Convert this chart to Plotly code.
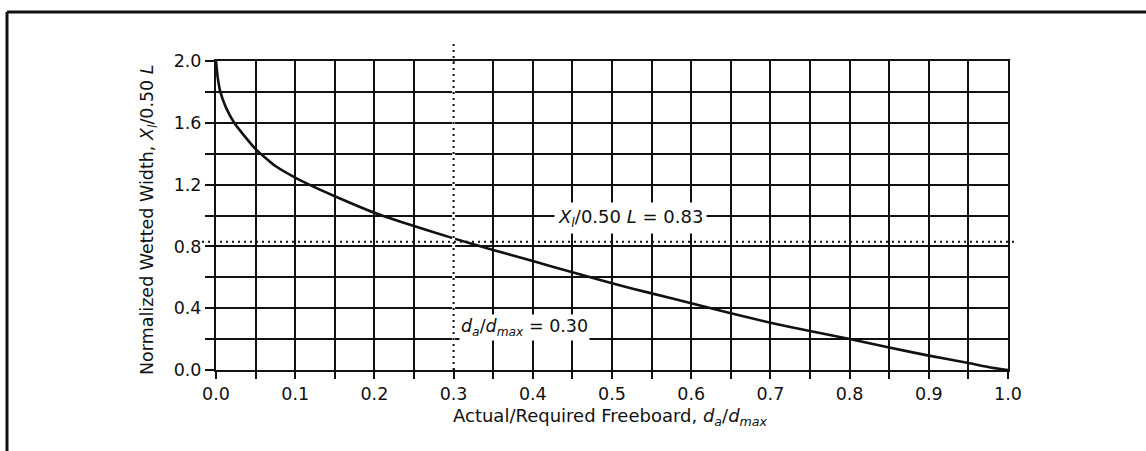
import plotly.graph_objects as go

# Normalized wetted width vs. actual/required freeboard
freeboard_ratio = [0.0, 0.002, 0.0055, 0.0125, 0.023, 0.035, 0.05, 0.075, 0.1, 0.125,
                   0.15, 0.175, 0.2, 0.25, 0.3, 0.35, 0.4, 0.45, 0.5, 0.55, 0.6,
                   0.65, 0.7, 0.75, 0.8, 0.85, 0.9, 0.95, 0.98, 1.0]
wetted_width = [2.0, 1.9, 1.8, 1.7, 1.6, 1.52, 1.43, 1.32, 1.245, 1.182,
                1.125, 1.07, 1.018, 0.932, 0.852, 0.777, 0.705, 0.633, 0.561, 0.496, 0.432,
                0.367, 0.306, 0.252, 0.2, 0.145, 0.093, 0.045, 0.015, 0.0]

# Reference values marked on the chart
design_ratio = 0.30
design_width = 0.83

# Axis ticks and labels
x_ticks = [round(i * 0.05, 2) for i in range(21)]
x_labels = [f"{v:.1f}" if i % 2 == 0 else "" for i, v in enumerate(x_ticks)]
y_ticks = [round(i * 0.2, 1) for i in range(11)]
y_labels = [f"{v:.1f}" if i % 2 == 0 else "" for i, v in enumerate(y_ticks)]

W, H = 1146, 451
L, R, T, B = 216, 138, 61, 81
pw, ph = W - L - R, H - T - B

def px_x(p):
    return (p - L) / pw

def px_y(p):
    return (H - B - p) / ph

ink = "#111111"
font = "DejaVu Sans, Verdana, sans-serif"

fig = go.Figure()

fig.add_trace(go.Scatter(
    x=freeboard_ratio, y=wetted_width, mode="lines",
    line=dict(color=ink, width=2.6, shape="spline", smoothing=0.5),
    hoverinfo="skip", showlegend=False,
))

dotted = dict(color=ink, width=2, dash="2px,4px")
shapes = [
    # white underlay so the 0.3 gridline reads as dotted
    dict(type="line", xref="x", yref="y", x0=design_ratio, x1=design_ratio,
         y0=0.01, y1=1.995, line=dict(color="white", width=3), layer="above"),
    dict(type="line", xref="x", yref="paper", x0=design_ratio, x1=design_ratio,
         y0=0, y1=px_y(42), line=dotted, layer="above"),
    dict(type="line", xref="paper", yref="y", x0=px_x(202), x1=px_x(1016),
         y0=design_width, y1=design_width, line=dotted, layer="above"),
    # page frame
    dict(type="line", xref="paper", yref="paper", x0=px_x(7), x1=px_x(7),
         y0=px_y(451), y1=px_y(12), line=dict(color=ink, width=3)),
    dict(type="line", xref="paper", yref="paper", x0=px_x(7), x1=px_x(1146),
         y0=px_y(12), y1=px_y(12), line=dict(color=ink, width=3)),
]

annotations = [
    dict(text=f"<i>X<sub>l</sub></i>/0.50 <i>L</i> = {design_width:.2f}", xref="x", yref="y",
         x=0.523, y=0.985, xanchor="center", yanchor="middle", showarrow=False,
         bgcolor="white", borderpad=3, font=dict(family=font, size=18, color=ink)),
    dict(text=f"<i>d<sub>a</sub></i>/<i>d<sub>max</sub></i> = {design_ratio:.2f}", xref="x", yref="y",
         x=0.389, y=0.275, xanchor="center", yanchor="middle", showarrow=False,
         bgcolor="white", borderpad=1, font=dict(family=font, size=17.5, color=ink)),
    dict(text="Actual/Required Freeboard, <i>d<sub>a</sub></i>/<i>d<sub>max</sub></i>",
         xref="paper", yref="paper", x=px_x(610), y=px_y(417), xanchor="center",
         yanchor="middle", showarrow=False, font=dict(family=font, size=18, color=ink)),
    dict(text="Normalized Wetted Width, <i>X<sub>l</sub></i>/0.50 <i>L</i>",
         xref="paper", yref="paper", x=px_x(148), y=px_y(220), xanchor="center",
         yanchor="middle", showarrow=False, textangle=-90,
         font=dict(family=font, size=17.5, color=ink)),
]

axis_common = dict(
    showgrid=True, gridcolor=ink, gridwidth=2, zeroline=False,
    showline=True, linecolor=ink, linewidth=2, mirror=True,
    ticks="outside", tickcolor=ink, tickwidth=2,
    tickfont=dict(family=font, size=17.5, color=ink), fixedrange=True,
)

fig.update_layout(
    width=W, height=H,
    margin=dict(l=L, r=R, t=T, b=B, autoexpand=False),
    paper_bgcolor="white", plot_bgcolor="white",
    xaxis=dict(range=[0, 1], tickvals=x_ticks, ticktext=x_labels, ticklen=7, **axis_common),
    yaxis=dict(range=[0, 2], tickvals=y_ticks, ticktext=y_labels, ticklen=9, **axis_common),
    shapes=shapes, annotations=annotations, showlegend=False,
)

fig.write_html("out.html", config={"displayModeBar": False})
